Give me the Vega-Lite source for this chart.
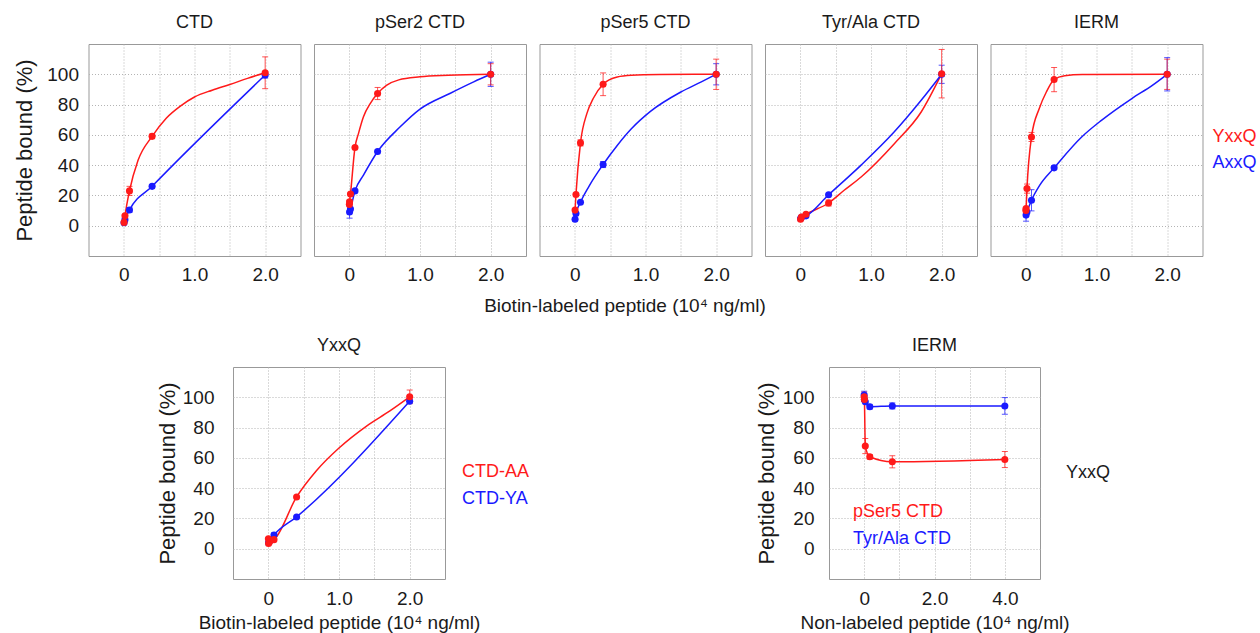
{
"$schema": "https://vega.github.io/schema/vega-lite/v6.json",
"padding": {"left": 0, "top": 13, "right": 0, "bottom": 0},
"background": "white",
"config": {
  "font": "Liberation Sans",
  "view": {"stroke": "#999999", "strokeWidth": 1},
  "axis": {"grid": true, "gridColor": "#b4b4b4", "gridDash": [1, 2], "gridWidth": 1, "domain": false, "ticks": false, "labelColor": "#1a1a1a", "titleColor": "#1a1a1a", "labelFontSize": 19, "titleFontWeight": "normal", "labelOverlap": false, "labelFlush": false},
  "title": {"fontSize": 18, "fontWeight": "normal", "color": "#1a1a1a", "anchor": "middle", "frame": "group", "offset": 12},
  "legend": {"labelFontSize": 18}
},
"datasets": {
  "pts": [
    {"panel":"CTD","series":"AxxQ","x":0.0032,"y":2,"err":0},
    {"panel":"CTD","series":"AxxQ","x":0.016,"y":4,"err":0},
    {"panel":"CTD","series":"AxxQ","x":0.08,"y":10.4,"err":1.5},
    {"panel":"CTD","series":"AxxQ","x":0.4,"y":26,"err":1},
    {"panel":"CTD","series":"AxxQ","x":2.0,"y":99.5,"err":2},
    {"panel":"CTD","series":"YxxQ","x":0.0032,"y":2.2,"err":0},
    {"panel":"CTD","series":"YxxQ","x":0.016,"y":6.5,"err":1},
    {"panel":"CTD","series":"YxxQ","x":0.08,"y":23,"err":3},
    {"panel":"CTD","series":"YxxQ","x":0.4,"y":59,"err":1.5},
    {"panel":"CTD","series":"YxxQ","x":2.0,"y":101,"err":10.5},
    {"panel":"pSer2","series":"AxxQ","x":0.0032,"y":9,"err":4},
    {"panel":"pSer2","series":"AxxQ","x":0.016,"y":11,"err":0},
    {"panel":"pSer2","series":"AxxQ","x":0.08,"y":23,"err":0},
    {"panel":"pSer2","series":"AxxQ","x":0.4,"y":49,"err":0},
    {"panel":"pSer2","series":"AxxQ","x":2.0,"y":100,"err":8},
    {"panel":"pSer2","series":"YxxQ","x":0.00064,"y":14,"err":0},
    {"panel":"pSer2","series":"YxxQ","x":0.0032,"y":15.8,"err":1},
    {"panel":"pSer2","series":"YxxQ","x":0.016,"y":20.9,"err":0},
    {"panel":"pSer2","series":"YxxQ","x":0.08,"y":51.7,"err":0},
    {"panel":"pSer2","series":"YxxQ","x":0.4,"y":87.3,"err":4},
    {"panel":"pSer2","series":"YxxQ","x":2.0,"y":100,"err":7},
    {"panel":"pSer5","series":"AxxQ","x":0.0032,"y":4.3,"err":0},
    {"panel":"pSer5","series":"AxxQ","x":0.016,"y":8,"err":0},
    {"panel":"pSer5","series":"AxxQ","x":0.08,"y":15.5,"err":0},
    {"panel":"pSer5","series":"AxxQ","x":0.4,"y":40.4,"err":2},
    {"panel":"pSer5","series":"AxxQ","x":2.0,"y":100,"err":7},
    {"panel":"pSer5","series":"YxxQ","x":0.0032,"y":10.3,"err":0},
    {"panel":"pSer5","series":"YxxQ","x":0.016,"y":20.6,"err":0},
    {"panel":"pSer5","series":"YxxQ","x":0.08,"y":54.7,"err":2},
    {"panel":"pSer5","series":"YxxQ","x":0.4,"y":93.4,"err":7.5},
    {"panel":"pSer5","series":"YxxQ","x":2.0,"y":100,"err":10},
    {"panel":"TyrAla","series":"AxxQ","x":0.0032,"y":4.8,"err":0},
    {"panel":"TyrAla","series":"AxxQ","x":0.016,"y":5.5,"err":0},
    {"panel":"TyrAla","series":"AxxQ","x":0.08,"y":6.5,"err":0},
    {"panel":"TyrAla","series":"AxxQ","x":0.4,"y":20.4,"err":0},
    {"panel":"TyrAla","series":"AxxQ","x":2.0,"y":100,"err":6},
    {"panel":"TyrAla","series":"YxxQ","x":0.0032,"y":4.3,"err":0},
    {"panel":"TyrAla","series":"YxxQ","x":0.016,"y":5.7,"err":0},
    {"panel":"TyrAla","series":"YxxQ","x":0.08,"y":7.6,"err":0},
    {"panel":"TyrAla","series":"YxxQ","x":0.4,"y":15,"err":2},
    {"panel":"TyrAla","series":"YxxQ","x":2.0,"y":100.4,"err":16},
    {"panel":"IERM","series":"AxxQ","x":0.0032,"y":7,"err":4},
    {"panel":"IERM","series":"AxxQ","x":0.016,"y":9,"err":0},
    {"panel":"IERM","series":"AxxQ","x":0.08,"y":16.8,"err":7},
    {"panel":"IERM","series":"AxxQ","x":0.4,"y":38.2,"err":1},
    {"panel":"IERM","series":"AxxQ","x":2.0,"y":100,"err":11},
    {"panel":"IERM","series":"YxxQ","x":0.00064,"y":10,"err":0},
    {"panel":"IERM","series":"YxxQ","x":0.0032,"y":11.3,"err":0},
    {"panel":"IERM","series":"YxxQ","x":0.016,"y":24.5,"err":3},
    {"panel":"IERM","series":"YxxQ","x":0.08,"y":58.6,"err":3},
    {"panel":"IERM","series":"YxxQ","x":0.4,"y":96.5,"err":8},
    {"panel":"IERM","series":"YxxQ","x":2.0,"y":100,"err":10},
    {"panel":"YxxQ","series":"CTD-YA","x":0.0032,"y":4,"err":0},
    {"panel":"YxxQ","series":"CTD-YA","x":0.016,"y":5,"err":0},
    {"panel":"YxxQ","series":"CTD-YA","x":0.08,"y":9,"err":1.5},
    {"panel":"YxxQ","series":"CTD-YA","x":0.4,"y":21,"err":0},
    {"panel":"YxxQ","series":"CTD-YA","x":2.0,"y":97.4,"err":0},
    {"panel":"YxxQ","series":"CTD-AA","x":0.00064,"y":6.5,"err":0},
    {"panel":"YxxQ","series":"CTD-AA","x":0.0032,"y":3.5,"err":0},
    {"panel":"YxxQ","series":"CTD-AA","x":0.016,"y":4.5,"err":0},
    {"panel":"YxxQ","series":"CTD-AA","x":0.08,"y":6,"err":0},
    {"panel":"YxxQ","series":"CTD-AA","x":0.4,"y":34.2,"err":0},
    {"panel":"YxxQ","series":"CTD-AA","x":2.0,"y":100.3,"err":4.5},
    {"panel":"IERM2","series":"Tyr/Ala CTD","x":0,"y":101.5,"err":2.5},
    {"panel":"IERM2","series":"Tyr/Ala CTD","x":0.0064,"y":98.5,"err":0},
    {"panel":"IERM2","series":"Tyr/Ala CTD","x":0.032,"y":97,"err":0},
    {"panel":"IERM2","series":"Tyr/Ala CTD","x":0.16,"y":93.8,"err":1.5},
    {"panel":"IERM2","series":"Tyr/Ala CTD","x":0.8,"y":94.3,"err":2},
    {"panel":"IERM2","series":"Tyr/Ala CTD","x":4.0,"y":94.3,"err":5.5},
    {"panel":"IERM2","series":"pSer5 CTD","x":0,"y":100.4,"err":3},
    {"panel":"IERM2","series":"pSer5 CTD","x":0.0064,"y":98.5,"err":0},
    {"panel":"IERM2","series":"pSer5 CTD","x":0.032,"y":67.8,"err":5},
    {"panel":"IERM2","series":"pSer5 CTD","x":0.16,"y":60.7,"err":1.5},
    {"panel":"IERM2","series":"pSer5 CTD","x":0.8,"y":57.4,"err":4},
    {"panel":"IERM2","series":"pSer5 CTD","x":4.0,"y":58.9,"err":5.3}
  ],
  "fit": [
    {"panel":"CTD","series":"YxxQ","x":0.0032,"y":2.2},
    {"panel":"CTD","series":"YxxQ","x":0.016,"y":6.5},
    {"panel":"CTD","series":"YxxQ","x":0.08,"y":23},
    {"panel":"CTD","series":"YxxQ","x":0.2,"y":43},
    {"panel":"CTD","series":"YxxQ","x":0.4,"y":59},
    {"panel":"CTD","series":"YxxQ","x":0.6,"y":71},
    {"panel":"CTD","series":"YxxQ","x":0.8,"y":79},
    {"panel":"CTD","series":"YxxQ","x":1.0,"y":85},
    {"panel":"CTD","series":"YxxQ","x":1.25,"y":89.5},
    {"panel":"CTD","series":"YxxQ","x":1.5,"y":93.3},
    {"panel":"CTD","series":"YxxQ","x":1.75,"y":97.3},
    {"panel":"CTD","series":"YxxQ","x":2.0,"y":101},
    {"panel":"CTD","series":"AxxQ","x":0.0032,"y":2},
    {"panel":"CTD","series":"AxxQ","x":0.016,"y":4},
    {"panel":"CTD","series":"AxxQ","x":0.08,"y":10.4},
    {"panel":"CTD","series":"AxxQ","x":0.4,"y":26},
    {"panel":"CTD","series":"AxxQ","x":2.0,"y":99.5},
    {"panel":"pSer2","series":"YxxQ","x":0.00064,"y":14},
    {"panel":"pSer2","series":"YxxQ","x":0.0032,"y":15.8},
    {"panel":"pSer2","series":"YxxQ","x":0.016,"y":20.9},
    {"panel":"pSer2","series":"YxxQ","x":0.08,"y":51.7},
    {"panel":"pSer2","series":"YxxQ","x":0.13,"y":61},
    {"panel":"pSer2","series":"YxxQ","x":0.2,"y":72},
    {"panel":"pSer2","series":"YxxQ","x":0.3,"y":81},
    {"panel":"pSer2","series":"YxxQ","x":0.4,"y":87.3},
    {"panel":"pSer2","series":"YxxQ","x":0.53,"y":92.8},
    {"panel":"pSer2","series":"YxxQ","x":0.7,"y":96.3},
    {"panel":"pSer2","series":"YxxQ","x":1.0,"y":98.3},
    {"panel":"pSer2","series":"YxxQ","x":1.4,"y":99.3},
    {"panel":"pSer2","series":"YxxQ","x":2.0,"y":100},
    {"panel":"pSer2","series":"AxxQ","x":0.0032,"y":9},
    {"panel":"pSer2","series":"AxxQ","x":0.016,"y":11},
    {"panel":"pSer2","series":"AxxQ","x":0.08,"y":23},
    {"panel":"pSer2","series":"AxxQ","x":0.2,"y":33.4},
    {"panel":"pSer2","series":"AxxQ","x":0.4,"y":49},
    {"panel":"pSer2","series":"AxxQ","x":0.72,"y":65.3},
    {"panel":"pSer2","series":"AxxQ","x":1.0,"y":77},
    {"panel":"pSer2","series":"AxxQ","x":1.43,"y":87.5},
    {"panel":"pSer2","series":"AxxQ","x":1.76,"y":95},
    {"panel":"pSer2","series":"AxxQ","x":2.0,"y":100},
    {"panel":"pSer5","series":"YxxQ","x":0.0032,"y":10.3},
    {"panel":"pSer5","series":"YxxQ","x":0.016,"y":20.6},
    {"panel":"pSer5","series":"YxxQ","x":0.08,"y":54.7},
    {"panel":"pSer5","series":"YxxQ","x":0.17,"y":74},
    {"panel":"pSer5","series":"YxxQ","x":0.26,"y":84},
    {"panel":"pSer5","series":"YxxQ","x":0.4,"y":93.4},
    {"panel":"pSer5","series":"YxxQ","x":0.6,"y":98.2},
    {"panel":"pSer5","series":"YxxQ","x":0.8,"y":99.3},
    {"panel":"pSer5","series":"YxxQ","x":1.2,"y":99.8},
    {"panel":"pSer5","series":"YxxQ","x":2.0,"y":100},
    {"panel":"pSer5","series":"AxxQ","x":0.0032,"y":4.3},
    {"panel":"pSer5","series":"AxxQ","x":0.016,"y":8},
    {"panel":"pSer5","series":"AxxQ","x":0.08,"y":15.5},
    {"panel":"pSer5","series":"AxxQ","x":0.2,"y":26},
    {"panel":"pSer5","series":"AxxQ","x":0.4,"y":40.4},
    {"panel":"pSer5","series":"AxxQ","x":0.6,"y":53},
    {"panel":"pSer5","series":"AxxQ","x":0.8,"y":64},
    {"panel":"pSer5","series":"AxxQ","x":1.07,"y":75.5},
    {"panel":"pSer5","series":"AxxQ","x":1.5,"y":88.3},
    {"panel":"pSer5","series":"AxxQ","x":1.79,"y":95},
    {"panel":"pSer5","series":"AxxQ","x":2.0,"y":100},
    {"panel":"TyrAla","series":"YxxQ","x":0.0032,"y":4.3},
    {"panel":"TyrAla","series":"YxxQ","x":0.016,"y":5.7},
    {"panel":"TyrAla","series":"YxxQ","x":0.08,"y":7.6},
    {"panel":"TyrAla","series":"YxxQ","x":0.4,"y":15},
    {"panel":"TyrAla","series":"YxxQ","x":0.62,"y":23.4},
    {"panel":"TyrAla","series":"YxxQ","x":0.86,"y":32.2},
    {"panel":"TyrAla","series":"YxxQ","x":1.33,"y":54.2},
    {"panel":"TyrAla","series":"YxxQ","x":1.71,"y":75.1},
    {"panel":"TyrAla","series":"YxxQ","x":2.0,"y":100.4},
    {"panel":"TyrAla","series":"AxxQ","x":0.0032,"y":4.8},
    {"panel":"TyrAla","series":"AxxQ","x":0.016,"y":5.5},
    {"panel":"TyrAla","series":"AxxQ","x":0.08,"y":6.5},
    {"panel":"TyrAla","series":"AxxQ","x":0.4,"y":20.4},
    {"panel":"TyrAla","series":"AxxQ","x":0.86,"y":40},
    {"panel":"TyrAla","series":"AxxQ","x":1.33,"y":62},
    {"panel":"TyrAla","series":"AxxQ","x":1.71,"y":82.8},
    {"panel":"TyrAla","series":"AxxQ","x":2.0,"y":100},
    {"panel":"IERM","series":"YxxQ","x":0.00064,"y":10},
    {"panel":"IERM","series":"YxxQ","x":0.0032,"y":11.3},
    {"panel":"IERM","series":"YxxQ","x":0.016,"y":24.5},
    {"panel":"IERM","series":"YxxQ","x":0.08,"y":58.6},
    {"panel":"IERM","series":"YxxQ","x":0.19,"y":77.4},
    {"panel":"IERM","series":"YxxQ","x":0.29,"y":88.3},
    {"panel":"IERM","series":"YxxQ","x":0.4,"y":96.5},
    {"panel":"IERM","series":"YxxQ","x":0.55,"y":99},
    {"panel":"IERM","series":"YxxQ","x":0.8,"y":99.8},
    {"panel":"IERM","series":"YxxQ","x":2.0,"y":100},
    {"panel":"IERM","series":"AxxQ","x":0.0032,"y":7},
    {"panel":"IERM","series":"AxxQ","x":0.016,"y":9},
    {"panel":"IERM","series":"AxxQ","x":0.08,"y":16.8},
    {"panel":"IERM","series":"AxxQ","x":0.2,"y":27},
    {"panel":"IERM","series":"AxxQ","x":0.4,"y":38.2},
    {"panel":"IERM","series":"AxxQ","x":0.79,"y":58.6},
    {"panel":"IERM","series":"AxxQ","x":1.07,"y":69.6},
    {"panel":"IERM","series":"AxxQ","x":1.5,"y":84},
    {"panel":"IERM","series":"AxxQ","x":1.79,"y":92.7},
    {"panel":"IERM","series":"AxxQ","x":2.0,"y":100},
    {"panel":"YxxQ","series":"CTD-AA","x":0.016,"y":4.5},
    {"panel":"YxxQ","series":"CTD-AA","x":0.08,"y":6},
    {"panel":"YxxQ","series":"CTD-AA","x":0.4,"y":34.2},
    {"panel":"YxxQ","series":"CTD-AA","x":0.68,"y":51.5},
    {"panel":"YxxQ","series":"CTD-AA","x":1.0,"y":66.5},
    {"panel":"YxxQ","series":"CTD-AA","x":1.39,"y":81},
    {"panel":"YxxQ","series":"CTD-AA","x":1.72,"y":91},
    {"panel":"YxxQ","series":"CTD-AA","x":2.0,"y":100.3},
    {"panel":"YxxQ","series":"CTD-YA","x":0.0032,"y":4},
    {"panel":"YxxQ","series":"CTD-YA","x":0.016,"y":5},
    {"panel":"YxxQ","series":"CTD-YA","x":0.08,"y":9},
    {"panel":"YxxQ","series":"CTD-YA","x":0.4,"y":21},
    {"panel":"YxxQ","series":"CTD-YA","x":2.0,"y":97.4},
    {"panel":"IERM2","series":"pSer5 CTD","x":0,"y":100.4},
    {"panel":"IERM2","series":"pSer5 CTD","x":0.0064,"y":98.5},
    {"panel":"IERM2","series":"pSer5 CTD","x":0.032,"y":67.8},
    {"panel":"IERM2","series":"pSer5 CTD","x":0.16,"y":60.7},
    {"panel":"IERM2","series":"pSer5 CTD","x":0.8,"y":57.4},
    {"panel":"IERM2","series":"pSer5 CTD","x":4.0,"y":58.9},
    {"panel":"IERM2","series":"Tyr/Ala CTD","x":0,"y":101.5},
    {"panel":"IERM2","series":"Tyr/Ala CTD","x":0.0064,"y":98.5},
    {"panel":"IERM2","series":"Tyr/Ala CTD","x":0.032,"y":97},
    {"panel":"IERM2","series":"Tyr/Ala CTD","x":0.16,"y":93.8},
    {"panel":"IERM2","series":"Tyr/Ala CTD","x":0.8,"y":94.3},
    {"panel":"IERM2","series":"Tyr/Ala CTD","x":4.0,"y":94.3}
  ],
  "note": [{"label": "YxxQ"}]
},
"resolve": {"scale": {"color": "independent"}, "legend": {"color": "independent"}},
"spacing": 20,
"vconcat": [
 {
  "hconcat": [
   {"width": 74.5, "height": 10, "view": {"stroke": null}, "data": {"values": []}, "mark": "point"},
   {
    "width": 212, "height": 212, "title": {"text": "CTD"},
    "layer": [
     {"data": {"name": "fit"}, "transform": [{"filter": {"field": "panel", "equal": "CTD"}}],
      "mark": {"type": "line", "interpolate": "monotone", "strokeWidth": 1.5},
      "encoding": {
       "x": {"field": "x", "type": "quantitative", "scale": {"domain": [-0.5, 2.5], "nice": false, "zero": false}, "axis": {"values": [0, 0.5, 1, 1.5, 2], "labelExpr": "datum.value == 0 ? '0' : datum.value == 1 ? '1.0' : datum.value == 2 ? '2.0' : ''", "title": null, "labelPadding": 9, "labelOverlap": false}},
       "y": {"field": "y", "type": "quantitative", "title": "Peptide bound (%)", "scale": {"domain": [-20, 120], "nice": false, "zero": false}, "axis": {"values": [0, 20, 40, 60, 80, 100], "title": "Peptide bound (%)", "titleFontSize": 22, "labelPadding": 10, "titlePadding": 10, "labelOverlap": false}},
       "color": {"field": "series", "type": "nominal", "scale": {"domain": ["YxxQ", "AxxQ"], "range": ["#ff1a1a", "#1a1aff"]}, "legend": null}
      }},
     {"data": {"name": "pts"}, "transform": [{"filter": {"field": "panel", "equal": "CTD"}}, {"filter": "datum.err > 0"}],
      "mark": {"type": "errorbar", "ticks": {"size": 6}, "thickness": 1, "opacity": 0.75},
      "encoding": {"x": {"field": "x", "type": "quantitative", "title": null}, "y": {"field": "y", "type": "quantitative", "title": "Peptide bound (%)"}, "yError": {"field": "err"},
       "color": {"field": "series", "type": "nominal", "scale": {"domain": ["YxxQ", "AxxQ"], "range": ["#ff1a1a", "#1a1aff"]}, "legend": null}}},
     {"data": {"name": "pts"}, "transform": [{"filter": {"field": "panel", "equal": "CTD"}}],
      "mark": {"type": "circle", "size": 50, "opacity": 1},
      "encoding": {"x": {"field": "x", "type": "quantitative", "title": null}, "y": {"field": "y", "type": "quantitative", "title": "Peptide bound (%)"},
       "color": {"field": "series", "type": "nominal", "scale": {"domain": ["YxxQ", "AxxQ"], "range": ["#ff1a1a", "#1a1aff"]}, "legend": null}}}
    ]
   },
   {
    "width": 212, "height": 212, "title": {"text": "pSer2 CTD"},
    "layer": [
     {"data": {"name": "fit"}, "transform": [{"filter": {"field": "panel", "equal": "pSer2"}}],
      "mark": {"type": "line", "interpolate": "monotone", "strokeWidth": 1.5},
      "encoding": {
       "x": {"field": "x", "type": "quantitative", "scale": {"domain": [-0.5, 2.5], "nice": false, "zero": false}, "axis": {"values": [0, 0.5, 1, 1.5, 2], "labelExpr": "datum.value == 0 ? '0' : datum.value == 1 ? '1.0' : datum.value == 2 ? '2.0' : ''", "title": null, "labelPadding": 9, "labelOverlap": false}},
       "y": {"field": "y", "type": "quantitative", "scale": {"domain": [-20, 120], "nice": false, "zero": false}, "axis": {"values": [0, 20, 40, 60, 80, 100], "labels": false, "title": null}},
       "color": {"field": "series", "type": "nominal", "scale": {"domain": ["YxxQ", "AxxQ"], "range": ["#ff1a1a", "#1a1aff"]}, "legend": null}
      }},
     {"data": {"name": "pts"}, "transform": [{"filter": {"field": "panel", "equal": "pSer2"}}, {"filter": "datum.err > 0"}],
      "mark": {"type": "errorbar", "ticks": {"size": 6}, "thickness": 1, "opacity": 0.75},
      "encoding": {"x": {"field": "x", "type": "quantitative"}, "y": {"field": "y", "type": "quantitative"}, "yError": {"field": "err"},
       "color": {"field": "series", "type": "nominal", "scale": {"domain": ["YxxQ", "AxxQ"], "range": ["#ff1a1a", "#1a1aff"]}, "legend": null}}},
     {"data": {"name": "pts"}, "transform": [{"filter": {"field": "panel", "equal": "pSer2"}}],
      "mark": {"type": "circle", "size": 50, "opacity": 1},
      "encoding": {"x": {"field": "x", "type": "quantitative"}, "y": {"field": "y", "type": "quantitative"},
       "color": {"field": "series", "type": "nominal", "scale": {"domain": ["YxxQ", "AxxQ"], "range": ["#ff1a1a", "#1a1aff"]}, "legend": null}}}
    ]
   },
   {
    "width": 212, "height": 212, "title": {"text": "pSer5 CTD"},
    "layer": [
     {"data": {"name": "fit"}, "transform": [{"filter": {"field": "panel", "equal": "pSer5"}}],
      "mark": {"type": "line", "interpolate": "monotone", "strokeWidth": 1.5},
      "encoding": {
       "x": {"field": "x", "type": "quantitative", "scale": {"domain": [-0.5, 2.5], "nice": false, "zero": false}, "axis": {"values": [0, 0.5, 1, 1.5, 2], "labelExpr": "datum.value == 0 ? '0' : datum.value == 1 ? '1.0' : datum.value == 2 ? '2.0' : ''", "title": null, "labelPadding": 9, "labelOverlap": false}},
       "y": {"field": "y", "type": "quantitative", "scale": {"domain": [-20, 120], "nice": false, "zero": false}, "axis": {"values": [0, 20, 40, 60, 80, 100], "labels": false, "title": null}},
       "color": {"field": "series", "type": "nominal", "scale": {"domain": ["YxxQ", "AxxQ"], "range": ["#ff1a1a", "#1a1aff"]}, "legend": null}
      }},
     {"data": {"name": "pts"}, "transform": [{"filter": {"field": "panel", "equal": "pSer5"}}, {"filter": "datum.err > 0"}],
      "mark": {"type": "errorbar", "ticks": {"size": 6}, "thickness": 1, "opacity": 0.75},
      "encoding": {"x": {"field": "x", "type": "quantitative"}, "y": {"field": "y", "type": "quantitative"}, "yError": {"field": "err"},
       "color": {"field": "series", "type": "nominal", "scale": {"domain": ["YxxQ", "AxxQ"], "range": ["#ff1a1a", "#1a1aff"]}, "legend": null}}},
     {"data": {"name": "pts"}, "transform": [{"filter": {"field": "panel", "equal": "pSer5"}}],
      "mark": {"type": "circle", "size": 50, "opacity": 1},
      "encoding": {"x": {"field": "x", "type": "quantitative"}, "y": {"field": "y", "type": "quantitative"},
       "color": {"field": "series", "type": "nominal", "scale": {"domain": ["YxxQ", "AxxQ"], "range": ["#ff1a1a", "#1a1aff"]}, "legend": null}}}
    ]
   },
   {
    "width": 212, "height": 212, "title": {"text": "Tyr/Ala CTD"},
    "layer": [
     {"data": {"name": "fit"}, "transform": [{"filter": {"field": "panel", "equal": "TyrAla"}}],
      "mark": {"type": "line", "interpolate": "monotone", "strokeWidth": 1.5},
      "encoding": {
       "x": {"field": "x", "type": "quantitative", "scale": {"domain": [-0.5, 2.5], "nice": false, "zero": false}, "axis": {"values": [0, 0.5, 1, 1.5, 2], "labelExpr": "datum.value == 0 ? '0' : datum.value == 1 ? '1.0' : datum.value == 2 ? '2.0' : ''", "title": null, "labelPadding": 9, "labelOverlap": false}},
       "y": {"field": "y", "type": "quantitative", "scale": {"domain": [-20, 120], "nice": false, "zero": false}, "axis": {"values": [0, 20, 40, 60, 80, 100], "labels": false, "title": null}},
       "color": {"field": "series", "type": "nominal", "scale": {"domain": ["YxxQ", "AxxQ"], "range": ["#ff1a1a", "#1a1aff"]}, "legend": null}
      }},
     {"data": {"name": "pts"}, "transform": [{"filter": {"field": "panel", "equal": "TyrAla"}}, {"filter": "datum.err > 0"}],
      "mark": {"type": "errorbar", "ticks": {"size": 6}, "thickness": 1, "opacity": 0.75},
      "encoding": {"x": {"field": "x", "type": "quantitative"}, "y": {"field": "y", "type": "quantitative"}, "yError": {"field": "err"},
       "color": {"field": "series", "type": "nominal", "scale": {"domain": ["YxxQ", "AxxQ"], "range": ["#ff1a1a", "#1a1aff"]}, "legend": null}}},
     {"data": {"name": "pts"}, "transform": [{"filter": {"field": "panel", "equal": "TyrAla"}}],
      "mark": {"type": "circle", "size": 50, "opacity": 1},
      "encoding": {"x": {"field": "x", "type": "quantitative"}, "y": {"field": "y", "type": "quantitative"},
       "color": {"field": "series", "type": "nominal", "scale": {"domain": ["YxxQ", "AxxQ"], "range": ["#ff1a1a", "#1a1aff"]}, "legend": null}}}
    ]
   },
   {
    "width": 212, "height": 212, "title": {"text": "IERM"},
    "layer": [
     {"data": {"name": "fit"}, "transform": [{"filter": {"field": "panel", "equal": "IERM"}}],
      "mark": {"type": "line", "interpolate": "monotone", "strokeWidth": 1.5},
      "encoding": {
       "x": {"field": "x", "type": "quantitative", "scale": {"domain": [-0.5, 2.5], "nice": false, "zero": false}, "axis": {"values": [0, 0.5, 1, 1.5, 2], "labelExpr": "datum.value == 0 ? '0' : datum.value == 1 ? '1.0' : datum.value == 2 ? '2.0' : ''", "title": null, "labelPadding": 9, "labelOverlap": false}},
       "y": {"field": "y", "type": "quantitative", "scale": {"domain": [-20, 120], "nice": false, "zero": false}, "axis": {"values": [0, 20, 40, 60, 80, 100], "labels": false, "title": null}},
       "color": {"field": "series", "type": "nominal", "scale": {"domain": ["YxxQ", "AxxQ"], "range": ["#ff1a1a", "#1a1aff"]},
        "legend": {"orient": "none", "legendX": 204, "legendY": 83.5, "title": null, "values": ["YxxQ", "AxxQ"], "symbolSize": 0, "symbolOpacity": 0, "symbolStrokeWidth": 0, "labelOffset": 0, "labelFontSize": 18, "rowPadding": 8, "padding": 0, "labelColor": {"expr": "datum.value == 'YxxQ' ? '#ff1a1a' : '#1a1aff'"}}}
      }},
     {"data": {"name": "pts"}, "transform": [{"filter": {"field": "panel", "equal": "IERM"}}, {"filter": "datum.err > 0"}],
      "mark": {"type": "errorbar", "ticks": {"size": 6}, "thickness": 1, "opacity": 0.75},
      "encoding": {"x": {"field": "x", "type": "quantitative"}, "y": {"field": "y", "type": "quantitative"}, "yError": {"field": "err"},
       "color": {"field": "series", "type": "nominal", "scale": {"domain": ["YxxQ", "AxxQ"], "range": ["#ff1a1a", "#1a1aff"]},
        "legend": {"orient": "none", "legendX": 204, "legendY": 83.5, "title": null, "values": ["YxxQ", "AxxQ"], "symbolSize": 0, "symbolOpacity": 0, "symbolStrokeWidth": 0, "labelOffset": 0, "labelFontSize": 18, "rowPadding": 8, "padding": 0, "labelColor": {"expr": "datum.value == 'YxxQ' ? '#ff1a1a' : '#1a1aff'"}}}}},
     {"data": {"name": "pts"}, "transform": [{"filter": {"field": "panel", "equal": "IERM"}}],
      "mark": {"type": "circle", "size": 50, "opacity": 1},
      "encoding": {"x": {"field": "x", "type": "quantitative"}, "y": {"field": "y", "type": "quantitative"},
       "color": {"field": "series", "type": "nominal", "scale": {"domain": ["YxxQ", "AxxQ"], "range": ["#ff1a1a", "#1a1aff"]},
        "legend": {"orient": "none", "legendX": 204, "legendY": 83.5, "title": null, "values": ["YxxQ", "AxxQ"], "symbolSize": 0, "symbolOpacity": 0, "symbolStrokeWidth": 0, "labelOffset": 0, "labelFontSize": 18, "rowPadding": 8, "padding": 0, "labelColor": {"expr": "datum.value == 'YxxQ' ? '#ff1a1a' : '#1a1aff'"}}}}}
    ]
   }
  ],
  "spacing": 13.5,
  "bounds": "flush",
  "resolve": {"scale": {"color": "independent"}, "legend": {"color": "independent"}},
  "title": {"text": "Biotin-labeled peptide (10⁴ ng/ml)", "orient": "bottom", "fontSize": 19, "anchor": "middle", "frame": "bounds", "offset": 12, "dx": -4}
 },
 {
  "hconcat": [
   {"width": 223, "height": 10, "view": {"stroke": null}, "data": {"values": []}, "mark": "point"},
   {
    "width": 212, "height": 212, "title": {"text": "YxxQ"},
    "layer": [
     {"data": {"name": "fit"}, "transform": [{"filter": {"field": "panel", "equal": "YxxQ"}}],
      "mark": {"type": "line", "interpolate": "monotone", "strokeWidth": 1.5},
      "encoding": {
       "x": {"field": "x", "type": "quantitative", "title": "Biotin-labeled peptide (10⁴ ng/ml)", "scale": {"domain": [-0.5, 2.5], "nice": false, "zero": false}, "axis": {"values": [0, 0.5, 1, 1.5, 2], "labelExpr": "datum.value == 0 ? '0' : datum.value == 1 ? '1.0' : datum.value == 2 ? '2.0' : ''", "title": "Biotin-labeled peptide (10⁴ ng/ml)", "titleFontSize": 19, "labelPadding": 10, "titlePadding": 5, "labelOverlap": false}},
       "y": {"field": "y", "type": "quantitative", "title": "Peptide bound (%)", "scale": {"domain": [-20, 120], "nice": false, "zero": false}, "axis": {"values": [0, 20, 40, 60, 80, 100], "title": "Peptide bound (%)", "titleFontSize": 22, "labelPadding": 19, "titlePadding": 3, "labelOverlap": false}},
       "color": {"field": "series", "type": "nominal", "scale": {"domain": ["CTD-AA", "CTD-YA"], "range": ["#ff1a1a", "#1a1aff"]},
        "legend": {"orient": "none", "legendX": 211, "legendY": 96, "title": null, "values": ["CTD-AA", "CTD-YA"], "symbolSize": 0, "symbolOpacity": 0, "symbolStrokeWidth": 0, "labelOffset": 0, "labelFontSize": 18, "rowPadding": 8.7, "padding": 0, "labelColor": {"expr": "datum.value == 'CTD-AA' ? '#ff1a1a' : '#1a1aff'"}}}
      }},
     {"data": {"name": "pts"}, "transform": [{"filter": {"field": "panel", "equal": "YxxQ"}}, {"filter": "datum.err > 0"}],
      "mark": {"type": "errorbar", "ticks": {"size": 6}, "thickness": 1, "opacity": 0.75},
      "encoding": {"x": {"field": "x", "type": "quantitative", "title": "Biotin-labeled peptide (10⁴ ng/ml)"}, "y": {"field": "y", "type": "quantitative", "title": "Peptide bound (%)"}, "yError": {"field": "err"},
       "color": {"field": "series", "type": "nominal", "scale": {"domain": ["CTD-AA", "CTD-YA"], "range": ["#ff1a1a", "#1a1aff"]},
        "legend": {"orient": "none", "legendX": 211, "legendY": 96, "title": null, "values": ["CTD-AA", "CTD-YA"], "symbolSize": 0, "symbolOpacity": 0, "symbolStrokeWidth": 0, "labelOffset": 0, "labelFontSize": 18, "rowPadding": 8.7, "padding": 0, "labelColor": {"expr": "datum.value == 'CTD-AA' ? '#ff1a1a' : '#1a1aff'"}}}}},
     {"data": {"name": "pts"}, "transform": [{"filter": {"field": "panel", "equal": "YxxQ"}}],
      "mark": {"type": "circle", "size": 50, "opacity": 1},
      "encoding": {"x": {"field": "x", "type": "quantitative", "title": "Biotin-labeled peptide (10⁴ ng/ml)"}, "y": {"field": "y", "type": "quantitative", "title": "Peptide bound (%)"},
       "color": {"field": "series", "type": "nominal", "scale": {"domain": ["CTD-AA", "CTD-YA"], "range": ["#ff1a1a", "#1a1aff"]},
        "legend": {"orient": "none", "legendX": 211, "legendY": 96, "title": null, "values": ["CTD-AA", "CTD-YA"], "symbolSize": 0, "symbolOpacity": 0, "symbolStrokeWidth": 0, "labelOffset": 0, "labelFontSize": 18, "rowPadding": 8.7, "padding": 0, "labelColor": {"expr": "datum.value == 'CTD-AA' ? '#ff1a1a' : '#1a1aff'"}}}}}
    ]
   },
   {"width": 364, "height": 10, "view": {"stroke": null}, "data": {"values": []}, "mark": "point"},
   {
    "width": 211, "height": 212, "title": {"text": "IERM"},
    "layer": [
     {"data": {"name": "fit"}, "transform": [{"filter": {"field": "panel", "equal": "IERM2"}}],
      "mark": {"type": "line", "interpolate": "monotone", "strokeWidth": 1.5},
      "encoding": {
       "x": {"field": "x", "type": "quantitative", "title": "Non-labeled peptide (10⁴ ng/ml)", "scale": {"domain": [-1, 5], "nice": false, "zero": false}, "axis": {"values": [0, 1, 2, 3, 4], "labelExpr": "datum.value == 0 ? '0' : datum.value == 2 ? '2.0' : datum.value == 4 ? '4.0' : ''", "title": "Non-labeled peptide (10⁴ ng/ml)", "titleFontSize": 19, "labelPadding": 10, "titlePadding": 5, "labelOverlap": false}},
       "y": {"field": "y", "type": "quantitative", "title": "Peptide bound (%)", "scale": {"domain": [-20, 120], "nice": false, "zero": false}, "axis": {"values": [0, 20, 40, 60, 80, 100], "title": "Peptide bound (%)", "titleFontSize": 22, "labelPadding": 15, "titlePadding": 4, "labelOverlap": false}},
       "color": {"field": "series", "type": "nominal", "scale": {"domain": ["pSer5 CTD", "Tyr/Ala CTD"], "range": ["#ff1a1a", "#1a1aff"]},
        "legend": {"orient": "none", "legendX": 6, "legendY": 136, "title": null, "values": ["pSer5 CTD", "Tyr/Ala CTD"], "symbolSize": 0, "symbolOpacity": 0, "symbolStrokeWidth": 0, "labelOffset": 0, "labelFontSize": 18, "rowPadding": 9.3, "padding": 0, "labelColor": {"expr": "datum.value == 'pSer5 CTD' ? '#ff1a1a' : '#1a1aff'"}}}
      }},
     {"data": {"name": "pts"}, "transform": [{"filter": {"field": "panel", "equal": "IERM2"}}, {"filter": "datum.err > 0"}],
      "mark": {"type": "errorbar", "ticks": {"size": 6}, "thickness": 1, "opacity": 0.75},
      "encoding": {"x": {"field": "x", "type": "quantitative", "title": "Non-labeled peptide (10⁴ ng/ml)"}, "y": {"field": "y", "type": "quantitative", "title": "Peptide bound (%)"}, "yError": {"field": "err"},
       "color": {"field": "series", "type": "nominal", "scale": {"domain": ["pSer5 CTD", "Tyr/Ala CTD"], "range": ["#ff1a1a", "#1a1aff"]},
        "legend": {"orient": "none", "legendX": 6, "legendY": 136, "title": null, "values": ["pSer5 CTD", "Tyr/Ala CTD"], "symbolSize": 0, "symbolOpacity": 0, "symbolStrokeWidth": 0, "labelOffset": 0, "labelFontSize": 18, "rowPadding": 9.3, "padding": 0, "labelColor": {"expr": "datum.value == 'pSer5 CTD' ? '#ff1a1a' : '#1a1aff'"}}}}},
     {"data": {"name": "pts"}, "transform": [{"filter": {"field": "panel", "equal": "IERM2"}}],
      "mark": {"type": "circle", "size": 50, "opacity": 1},
      "encoding": {"x": {"field": "x", "type": "quantitative", "title": "Non-labeled peptide (10⁴ ng/ml)"}, "y": {"field": "y", "type": "quantitative", "title": "Peptide bound (%)"},
       "color": {"field": "series", "type": "nominal", "scale": {"domain": ["pSer5 CTD", "Tyr/Ala CTD"], "range": ["#ff1a1a", "#1a1aff"]},
        "legend": {"orient": "none", "legendX": 6, "legendY": 136, "title": null, "values": ["pSer5 CTD", "Tyr/Ala CTD"], "symbolSize": 0, "symbolOpacity": 0, "symbolStrokeWidth": 0, "labelOffset": 0, "labelFontSize": 18, "rowPadding": 9.3, "padding": 0, "labelColor": {"expr": "datum.value == 'pSer5 CTD' ? '#ff1a1a' : '#1a1aff'"}}}}}
    ]
   },
   {"width": 76, "height": 212, "view": {"stroke": null}, "data": {"name": "note"},
    "mark": {"type": "text", "fontSize": 18, "color": "#1a1a1a"},
    "encoding": {"text": {"field": "label", "type": "nominal"}}}
  ],
  "spacing": 10,
  "bounds": "flush",
  "resolve": {"scale": {"color": "independent"}, "legend": {"color": "independent"}}
 }
]
}
